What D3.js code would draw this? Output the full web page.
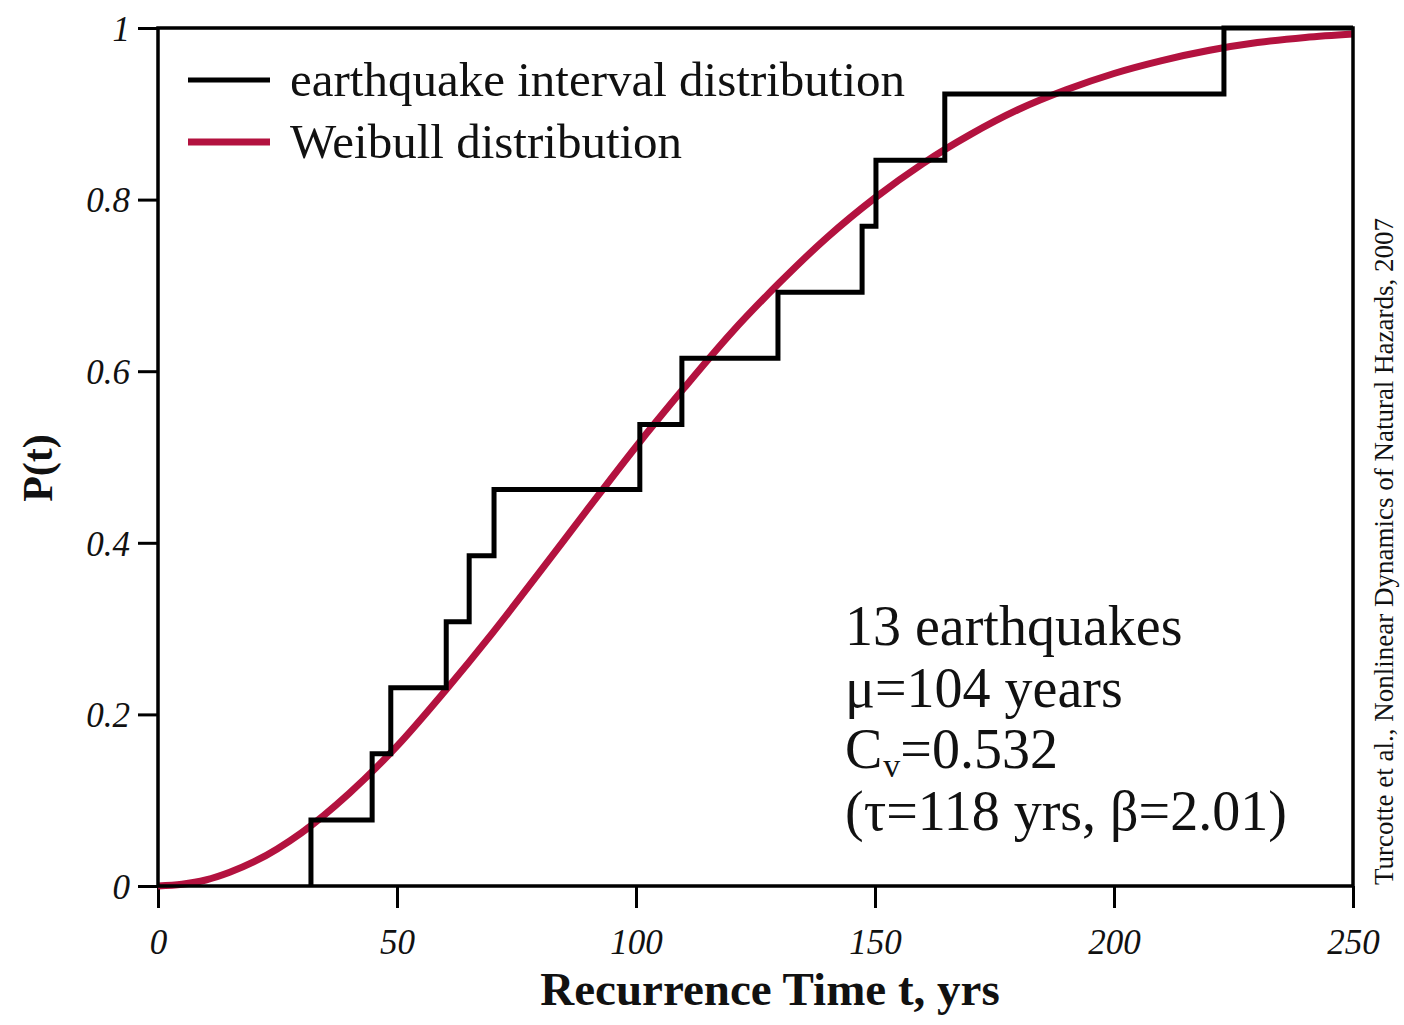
<!DOCTYPE html>
<html>
<head>
<meta charset="utf-8">
<script src="https://cdn.jsdelivr.net/npm/d3@7"></script>
<style>
  body { margin: 0; background: #fff; }
  text { font-family: "Liberation Serif", "DejaVu Serif", serif; }
</style>
</head>
<body>
<script>
// recurrence times (yrs) where the empirical CDF steps up, and the level after each step
var stepTimes = [32, 44.8, 48.7, 60.3, 65.1, 70.3, 100.8, 109.6, 129.7, 147.3, 150.2, 164.6, 223];
var stepLevels = [0.077, 0.154, 0.231, 0.308, 0.385, 0.462, 0.538, 0.615, 0.692, 0.769, 0.846, 0.923, 1.0];

// Weibull curve
var curveT = [0, 5, 10, 15, 20, 30, 40, 50, 60, 70, 80, 90, 100, 110, 120, 130, 140, 150, 160, 170, 180, 190, 200, 210, 220, 230, 240, 250];
var curveP = [0, 0.002, 0.007, 0.016, 0.028, 0.062, 0.108, 0.163, 0.227, 0.295, 0.367, 0.440, 0.512, 0.580, 0.645, 0.703, 0.756, 0.802, 0.842, 0.876, 0.905, 0.928, 0.947, 0.962, 0.974, 0.983, 0.989, 0.993];

var xTicks = [0, 50, 100, 150, 200, 250];
var yTicks = [0, 0.2, 0.4, 0.6, 0.8, 1];

var width = 1404, height = 1025;
var mLeft = 158, mRight = 1353, mTop = 28, mBottom = 886;

var svg = d3.select("body").append("svg")
    .attr("width", width)
    .attr("height", height);

var x = d3.scaleLinear().domain([0, 250]).range([mLeft, mRight]);
var y = d3.scaleLinear().domain([0, 1]).range([mBottom, mTop]);

// axes (outward ticks)
var xAxis = svg.append("g")
    .attr("transform", "translate(0," + mBottom + ")")
    .call(d3.axisBottom(x).tickValues(xTicks).tickSize(22).tickPadding(14)
        .tickFormat(d3.format("d")));
var yAxis = svg.append("g")
    .attr("transform", "translate(" + mLeft + ",0)")
    .call(d3.axisLeft(y).tickValues(yTicks).tickSize(20).tickPadding(8)
        .tickFormat(function(d) { return d === 0 || d === 1 ? d : d3.format(".1f")(d); }));

[xAxis, yAxis].forEach(function(a) {
  a.select(".domain").remove();
  a.selectAll(".tick line").attr("stroke", "#000").attr("stroke-width", 3);
  a.selectAll(".tick text")
      .attr("fill", "#111")
      .attr("font-size", 35)
      .attr("font-style", "italic")
      .attr("font-family", "Liberation Serif, serif");
});
xAxis.selectAll(".tick text").attr("dy", "0.9em");
yAxis.selectAll(".tick text").attr("dy", "0.35em");

// weibull curve
svg.append("path")
    .datum(curveT.map(function(t, i) { return [t, curveP[i]]; }))
    .attr("fill", "none")
    .attr("stroke", "#b3123f")
    .attr("stroke-width", 7)
    .attr("d", d3.line()
        .x(function(d) { return x(d[0]); })
        .y(function(d) { return y(d[1]); })
        .curve(d3.curveMonotoneX));

// empirical step function
var stepPts = [[stepTimes[0], 0]];
stepTimes.forEach(function(t, i) { stepPts.push([t, stepLevels[i]]); });
stepPts.push([250, 1]);
svg.append("path")
    .datum(stepPts)
    .attr("fill", "none")
    .attr("stroke", "#000")
    .attr("stroke-width", 5)
    .attr("d", d3.line()
        .x(function(d) { return x(d[0]); })
        .y(function(d) { return y(d[1]); })
        .curve(d3.curveStepAfter));

// frame
svg.append("rect")
    .attr("x", mLeft).attr("y", mTop)
    .attr("width", mRight - mLeft).attr("height", mBottom - mTop)
    .attr("fill", "none")
    .attr("stroke", "#000")
    .attr("stroke-width", 3.5);

// legend
var legend = [
  { label: "earthquake interval distribution", color: "#000", w: 5 },
  { label: "Weibull distribution", color: "#b3123f", w: 7 }
];
legend.forEach(function(d, i) {
  var ly = 80 + i * 62;
  svg.append("line")
      .attr("x1", 188).attr("x2", 270)
      .attr("y1", ly).attr("y2", ly)
      .attr("stroke", d.color).attr("stroke-width", d.w);
  svg.append("text")
      .attr("x", 290).attr("y", ly + 16)
      .attr("font-size", 49)
      .attr("fill", "#111")
      .text(d.label);
});

// annotation
var ann = svg.append("g").attr("font-size", 56).attr("fill", "#111");
ann.append("text").attr("x", 845).attr("y", 645).text("13 earthquakes");
ann.append("text").attr("x", 845).attr("y", 707).text("\u03bc=104 years");
var cv = ann.append("text").attr("x", 845).attr("y", 768);
cv.append("tspan").text("C");
cv.append("tspan").attr("font-size", 34).attr("dx", 1).attr("dy", 9).text("v");
cv.append("tspan").attr("dy", -9).text("=0.532");
ann.append("text").attr("x", 845).attr("y", 830).text("(\u03c4=118 yrs, \u03b2=2.01)");

// axis titles
svg.append("text")
    .attr("x", 770).attr("y", 1005)
    .attr("text-anchor", "middle")
    .attr("font-size", 47)
    .attr("font-weight", "bold")
    .attr("fill", "#111")
    .text("Recurrence Time t, yrs");

svg.append("text")
    .attr("transform", "translate(52,468) rotate(-90)")
    .attr("text-anchor", "middle")
    .attr("font-size", 42)
    .attr("font-weight", "bold")
    .attr("fill", "#111")
    .text("P(t)");

// credit
svg.append("text")
    .attr("transform", "translate(1393,885) rotate(-90)")
    .attr("font-size", 27)
    .attr("fill", "#111")
    .text("Turcotte et al., Nonlinear Dynamics of Natural Hazards, 2007");
</script>
</body>
</html>
